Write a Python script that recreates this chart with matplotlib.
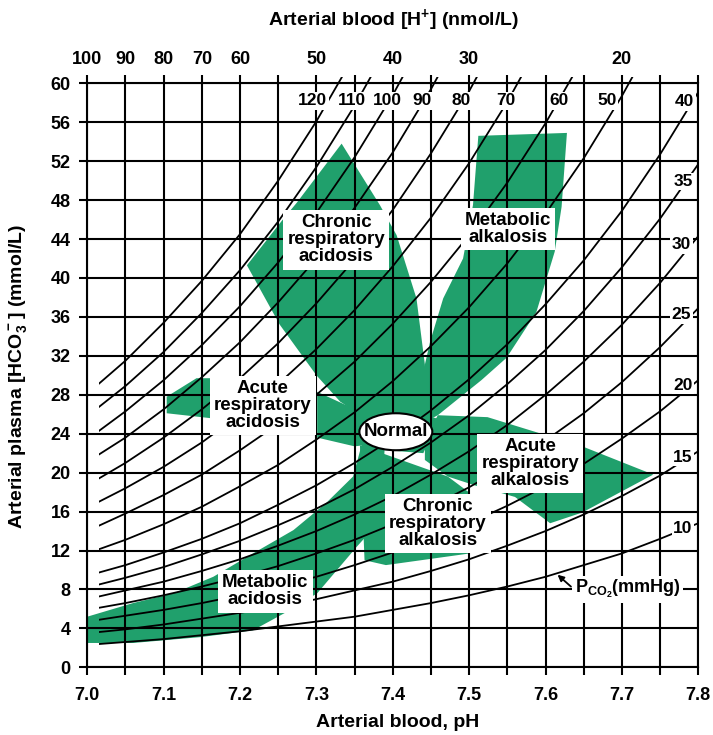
import matplotlib
matplotlib.use('Agg')
import matplotlib.pyplot as plt
from matplotlib.patches import Polygon, Ellipse

plt.rcParams['font.family'] = ['Liberation Sans', 'DejaVu Sans']
plt.rcParams['mathtext.default'] = 'regular'

# pH positions at which the PCO2 isopleths were read
ph_grid = [7.00, 7.05, 7.10, 7.15, 7.20, 7.25, 7.30, 7.35, 7.40,
           7.45, 7.50, 7.55, 7.60, 7.65, 7.70, 7.75, 7.80]

# HCO3 (mmol/L) along each PCO2 isopleth
pco2_120 = [28.1, 31.5, 35.4, 39.7, 44.5, 50.0, 56.1, 62.9]
pco2_110 = [25.8, 28.9, 32.4, 36.4, 40.8, 45.8, 51.4, 57.7, 64.7]
pco2_100 = [23.4, 26.3, 29.5, 33.1, 37.1, 41.6, 46.7, 52.4, 58.8, 66.0]
pco2_90 = [21.1, 23.6, 26.5, 29.8, 33.4, 37.5, 42.0, 47.2, 52.9, 59.4, 66.6]
pco2_80 = [18.7, 21.0, 23.6, 26.5, 29.7, 33.3, 37.4, 41.9, 47.0, 52.8, 59.2, 66.4]
pco2_70 = [16.4, 18.4, 20.6, 23.1, 26.0, 29.1, 32.7, 36.7, 41.2, 46.2, 51.8, 58.1, 65.2]
pco2_60 = [14.0, 15.8, 17.7, 19.8, 22.3, 25.0, 28.0, 31.4, 35.3, 39.6, 44.4, 49.8, 55.9, 62.7]
pco2_50 = [11.7, 13.1, 14.7, 16.5, 18.6, 20.8, 23.4, 26.2, 29.4, 33.0, 37.0, 41.5, 46.6, 52.3, 58.7, 65.8]
pco2_40 = [9.4, 10.5, 11.8, 13.2, 14.8, 16.7, 18.7, 21.0, 23.5, 26.4, 29.6, 33.2, 37.3, 41.8, 46.9, 52.7, 59.1]
pco2_35 = [8.2, 9.2, 10.3, 11.6, 13.0, 14.6, 16.3, 18.3, 20.6, 23.1, 25.9, 29.1, 32.6, 36.6, 41.1, 46.1, 51.7]
pco2_30 = [7.0, 7.9, 8.8, 9.9, 11.1, 12.5, 14.0, 15.7, 17.6, 19.8, 22.2, 24.9, 28.0, 31.4, 35.2, 39.5, 44.3]
pco2_25 = [5.9, 6.6, 7.4, 8.3, 9.3, 10.4, 11.7, 13.1, 14.7, 16.5, 18.5, 20.8, 23.3, 26.1, 29.3, 32.9, 36.9]
pco2_20 = [4.7, 5.3, 5.9, 6.6, 7.4, 8.3, 9.3, 10.5, 11.8, 13.2, 14.8, 16.6, 18.6, 20.9, 23.5, 26.3, 29.5]
pco2_15 = [3.5, 3.9, 4.4, 5.0, 5.6, 6.2, 7.0, 7.9, 8.8, 9.9, 11.1, 12.5, 14.0, 15.7, 17.6, 19.7, 22.2]
pco2_10 = [2.3, 2.6, 2.9, 3.3, 3.7, 4.2, 4.7, 5.2, 5.9, 6.6, 7.4, 8.3, 9.3, 10.5, 11.7, 13.2, 14.8]

isopleths = [pco2_120, pco2_110, pco2_100, pco2_90, pco2_80, pco2_70, pco2_60,
             pco2_50, pco2_40, pco2_35, pco2_30, pco2_25, pco2_20, pco2_15, pco2_10]

# isopleth labels and where they sit (pH, HCO3)
pco2_labels = ['120', '110', '100', '90', '80', '70', '60', '50', '40',
               '35', '30', '25', '20', '15', '10']
pco2_label_ph = [7.295, 7.347, 7.393, 7.438, 7.490, 7.548, 7.617, 7.680, 7.782,
                 7.780, 7.778, 7.778, 7.780, 7.780, 7.780]
pco2_label_hco3 = [58.2, 58.2, 58.2, 58.2, 58.2, 58.2, 58.2, 58.2, 58.1,
                   49.9, 43.4, 36.2, 29.0, 21.6, 14.3]

# top axis: [H+] labels and the pH at which they are printed
h_labels = ['100', '90', '80', '70', '60', '50', '40', '30', '20']
h_label_ph = [7.0, 7.05, 7.10, 7.15, 7.20, 7.30, 7.40, 7.50, 7.70]

# shaded regions (pH, HCO3)
chronic_resp_acidosis = [(7.333, 53.8), (7.383, 47.5), (7.405, 44.4), (7.431, 37.9),
                         (7.442, 31.1), (7.446, 25.0), (7.383, 24.6), (7.331, 27.3),
                         (7.300, 30.0), (7.252, 35.2), (7.209, 41.3), (7.257, 46.1),
                         (7.274, 47.7)]
metabolic_alkalosis = [(7.512, 54.6), (7.628, 54.9), (7.621, 47.3), (7.612, 42.7),
                       (7.588, 36.5), (7.549, 31.8), (7.516, 29.5), (7.459, 25.9),
                       (7.435, 24.9), (7.442, 31.1), (7.449, 33.5), (7.466, 37.9),
                       (7.492, 42.0), (7.505, 47.5)]
acute_resp_acidosis_left = [(7.104, 27.8), (7.143, 29.7), (7.161, 29.7),
                            (7.161, 25.6), (7.104, 26.1)]
acute_resp_acidosis = [(7.301, 28.3), (7.337, 27.0), (7.403, 25.4),
                       (7.403, 23.2), (7.350, 22.7), (7.301, 23.6)]
acute_resp_alkalosis = [(7.442, 23.4), (7.459, 25.9), (7.524, 25.7), (7.648, 22.7),
                        (7.741, 19.8), (7.648, 15.9), (7.606, 14.8), (7.560, 17.5),
                        (7.507, 18.7), (7.472, 19.6), (7.442, 21.3)]
chronic_resp_alkalosis = [(7.357, 22.8), (7.472, 19.6), (7.501, 17.9),
                          (7.501, 11.7), (7.391, 10.5), (7.363, 11.0)]
metabolic_acidosis = [(7.000, 5.2), (7.060, 6.6), (7.113, 7.6), (7.165, 9.3),
                      (7.217, 11.7), (7.270, 14.1), (7.313, 16.9), (7.348, 19.6),
                      (7.358, 22.5), (7.390, 23.4), (7.384, 15.1), (7.353, 12.4),
                      (7.301, 7.6), (7.259, 5.6), (7.217, 3.8), (7.148, 3.1),
                      (7.060, 2.5), (7.000, 2.5)]
normal_zone = [(7.36, 22.5), (7.44, 22.0), (7.46, 25.5), (7.40, 27.0), (7.35, 25.5)]

regions = [chronic_resp_acidosis, metabolic_alkalosis, acute_resp_acidosis_left,
           acute_resp_acidosis, acute_resp_alkalosis, chronic_resp_alkalosis,
           metabolic_acidosis, normal_zone]

region_texts = ['Chronic\nrespiratory\nacidosis', 'Metabolic\nalkalosis',
                'Acute\nrespiratory\nacidosis', 'Acute\nrespiratory\nalkalosis',
                'Chronic\nrespiratory\nalkalosis', 'Metabolic\nacidosis']
region_text_ph = [7.326, 7.551, 7.230, 7.580, 7.459, 7.233]
region_text_hco3 = [43.9, 45.0, 26.9, 20.9, 14.8, 7.8]

normal_ph, normal_hco3 = 7.404, 24.2

green = '#20a06c'

fig = plt.figure(figsize=(7.13, 7.35), dpi=100)
ax = fig.add_axes([0.1224, 0.0921, 0.8570, 0.7946])

for reg in regions:
    ax.add_patch(Polygon(reg, closed=True, facecolor=green, edgecolor='none', zorder=1))

# isopleths: start at pH 7.015, run slightly past the top frame under the labels
clip_shape = Polygon([(7.015, -1), (7.8, -1), (7.8, 60.6), (7.015, 60.6)],
                     closed=True, transform=ax.transData)
for vals in isopleths:
    ln, = ax.plot(ph_grid[:len(vals)], vals, color='black', lw=1.3, zorder=2)
    ln.set_clip_path(clip_shape)
    ln.set_clip_box(None)

for txt, x, y in zip(pco2_labels, pco2_label_ph, pco2_label_hco3):
    ax.text(x, y, txt, ha='center', va='center', fontsize=12.5, fontweight='bold',
            zorder=4, bbox=dict(facecolor='white', edgecolor='none', pad=1.0))

for txt, x, y in zip(region_texts, region_text_ph, region_text_hco3):
    ax.text(x, y, txt, ha='center', va='center', fontsize=13.5, fontweight='bold',
            linespacing=1.0, zorder=4,
            bbox=dict(facecolor='white', edgecolor='none', pad=3))

ax.add_patch(Ellipse((normal_ph, normal_hco3), 0.0955, 3.8, facecolor='white',
                     edgecolor='black', lw=1.5, zorder=5))
ax.text(normal_ph, normal_hco3, 'Normal', ha='center', va='center', fontsize=13.5,
        fontweight='bold', zorder=6)

# PCO2 legend with pointer
ax.annotate('', xy=(7.613, 9.7), xytext=(7.636, 8.1),
            arrowprops=dict(arrowstyle='-|>', color='black', lw=1.3,
                            mutation_scale=9), zorder=5)
ax.text(7.638, 8.0, r'P$_{CO_2}$(mmHg)', ha='left', va='center', fontsize=13,
        fontweight='bold', zorder=4,
        bbox=dict(facecolor='white', edgecolor='none', pad=1.5))

ax.set_xlim(7.0, 7.8)
ax.set_ylim(0, 60)
ax.set_xticks([7.0 + 0.05 * i for i in range(17)])
ax.set_xticklabels(['%.1f' % (7.0 + 0.05 * i) if i % 2 == 0 else '' for i in range(17)])
ax.set_yticks(range(0, 61, 4))
ax.grid(True, color='black', lw=1.5)
ax.set_axisbelow('line')
ax.tick_params(direction='out', length=6, width=1.5, labelsize=13, top=True)
ax.tick_params(axis='x', pad=8)
ax.tick_params(axis='y', pad=6)
for lab in ax.get_xticklabels() + ax.get_yticklabels():
    lab.set_fontweight('bold')
for s in ax.spines.values():
    s.set_linewidth(1.5)

top = ax.secondary_xaxis('top')
top.set_xticks(h_label_ph, labels=h_labels)
top.tick_params(length=0, pad=11, labelsize=13)
for lab in top.get_xticklabels():
    lab.set_fontweight('bold')
top.spines['top'].set_visible(False)

fig.text(0.552, 0.973, 'Arterial blood [H$^{+}$] (nmol/L)', ha='center', va='center',
         fontsize=14, fontweight='bold')
fig.text(0.557, 0.017, 'Arterial blood, pH', ha='center', va='center',
         fontsize=14, fontweight='bold')
fig.text(0.025, 0.488, 'Arterial plasma [HCO$_3^-$] (mmol/L)', ha='center', va='center',
         rotation=90, fontsize=14, fontweight='bold')

fig.savefig('out.png', dpi=100)
